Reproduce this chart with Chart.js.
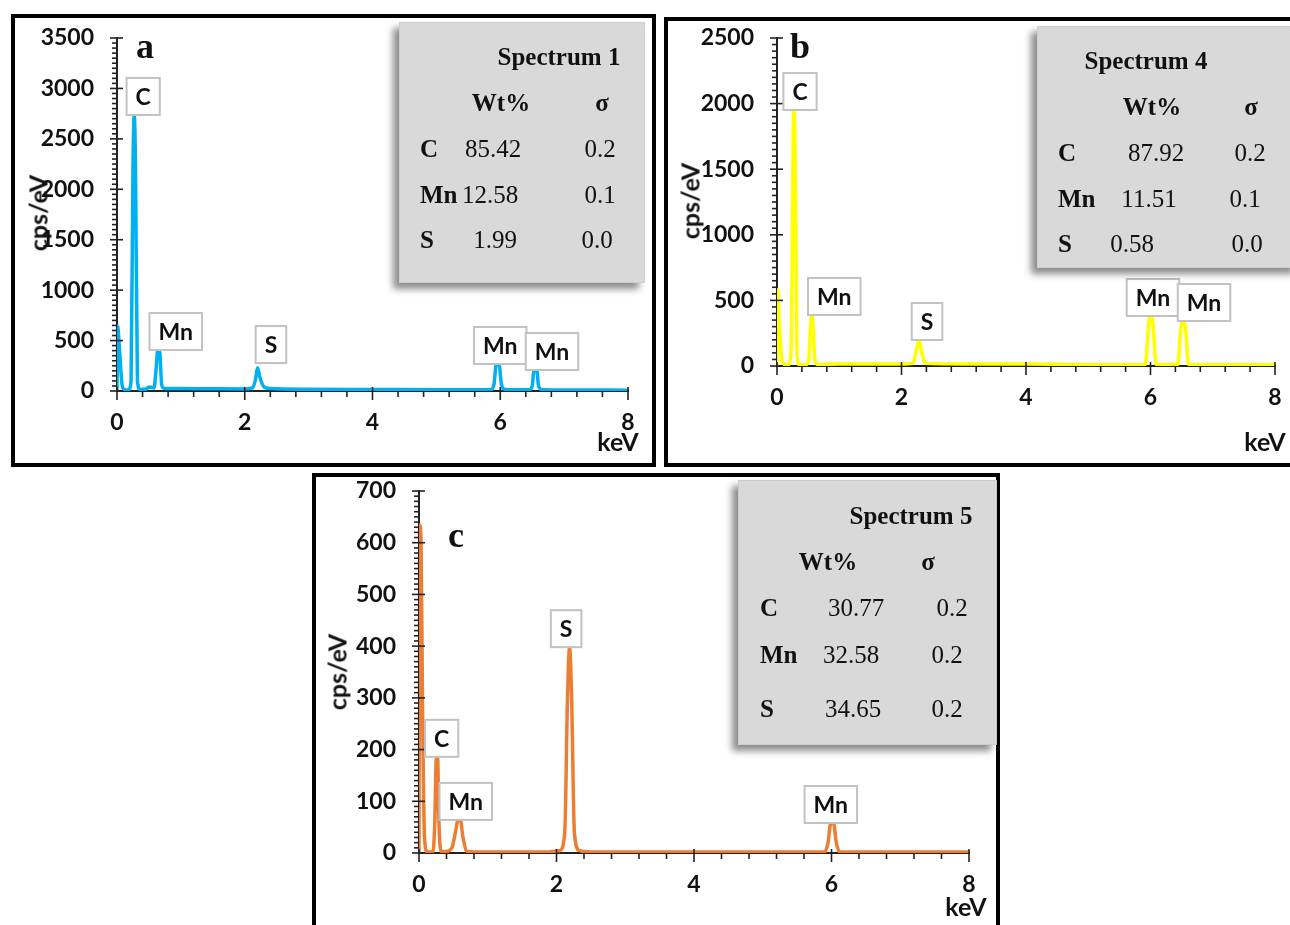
<!DOCTYPE html>
<html><head><meta charset="utf-8">
<script src="https://cdn.jsdelivr.net/npm/chart.js@4.4.1/dist/chart.umd.min.js"></script>
<style>
html,body{margin:0;padding:0;background:#fff;width:1290px;height:925px;overflow:hidden;position:relative;}
.frame{position:absolute;border:4px solid #000;box-sizing:border-box;}
canvas{position:absolute;}
.t{position:absolute;white-space:nowrap;transform:translate(-50%,-50%);line-height:1;color:#111;}
.serif{font-family:"Liberation Serif","DejaVu Serif",serif;font-size:25px;}
.b{font-weight:bold;}
.inset{position:absolute;background:#d9d9d9;border:1px solid #cdcdcd;box-shadow:-6px 6px 7px rgba(0,0,0,0.45);box-sizing:border-box;}
.sans{font-family:Lato,"Open Sans",sans-serif;font-weight:700;font-size:25px;}
.letter{font-family:"Liberation Serif",serif;font-weight:bold;font-size:36px;}
.ytitle{transform:translate(-50%,-50%) rotate(-90deg);}
</style></head><body>
<div class="frame" style="left:11px;top:14px;width:645px;height:453px;"></div>
<div class="frame" style="left:664px;top:17px;width:640px;height:450px;"></div>
<div class="frame" style="left:312px;top:473px;width:688px;height:460px;"></div>
<canvas id="ca" width="637" height="445" style="left:15px;top:18px;"></canvas>
<canvas id="cb" width="622" height="442" style="left:668px;top:21px;"></canvas>
<canvas id="cc" width="680" height="448" style="left:316px;top:477px;"></canvas>
<div id="overlay"></div>
<script>
// ---------- DATA ----------
// Panel a (Spectrum 1)
const keVA = [0,0.01,0.04,0.08,0.12,0.18,0.22,0.25,0.27,0.29,0.32,0.36,0.46,0.5,0.54,0.58,0.61,0.64,0.67,0.7,0.74,1.0,1.5,2.0,2.12,2.17,2.2,2.24,2.3,2.4,3.0,4.0,5.0,5.85,5.9,5.94,5.98,6.02,6.08,6.45,6.5,6.53,6.57,6.6,6.66,7.0,8.0];
const cpsA = [0,645,400,60,12,10,100,2200,2740,2200,100,15,20,40,35,30,200,410,380,60,25,25,22,20,30,120,230,130,40,25,18,15,12,12,60,268,268,60,15,12,50,210,210,50,12,10,8];
const peakTextA = ['C','Mn','S','Mn','Mn'];
const peakKeVA = [0.41,0.92,2.41,6.0,6.81];
const peakCpsA = [2737,406,277,268,208];
const elemsA = ['C','Mn','S'];
const wtA = ['85.42','12.58','1.99'];
const sigmaA = ['0.2','0.1','0.0'];

// Panel b (Spectrum 4)
const keVB = [0,0.01,0.04,0.08,0.12,0.18,0.23,0.26,0.27,0.29,0.32,0.36,0.46,0.51,0.54,0.56,0.58,0.61,0.66,1.0,2.0,2.18,2.24,2.28,2.32,2.38,3.0,4.0,5.0,5.92,5.96,5.99,6.02,6.05,6.09,6.44,6.48,6.51,6.54,6.57,6.61,7.0,8.0];
const cpsB = [0,580,300,40,10,10,150,1700,1950,1700,100,10,10,40,300,390,300,40,10,15,15,20,120,195,120,20,15,15,10,12,250,381,381,250,12,12,250,343,343,250,12,10,10];
const peakTextB = ['C','Mn','S','Mn','Mn'];
const peakKeVB = [0.37,0.92,2.41,6.04,6.86];
const peakCpsB = [1951,389,198,381,343];
const elemsB = ['C','Mn','S'];
const wtB = ['87.92','11.51','0.58'];
const sigmaB = ['0.2','0.1','0.0'];

// Panel c (Spectrum 5)
const keVC = [0,0.01,0.03,0.05,0.08,0.12,0.2,0.23,0.25,0.27,0.29,0.32,0.4,0.48,0.53,0.57,0.6,0.64,0.7,1.0,1.9,2.05,2.12,2.16,2.19,2.22,2.26,2.33,2.5,4.0,5.9,5.95,5.99,6.03,6.07,6.12,8.0];
const cpsC = [0,634,600,300,30,2,2,60,180,186,60,3,3,10,40,65,65,30,3,2,2,5,40,300,398,300,40,5,2,2,2,20,58,58,20,2,2];
const peakTextC = ['C','Mn','S','Mn'];
const peakKeVC = [0.33,0.68,2.14,5.99];
const peakCpsC = [186,64,398,58];
const elemsC = ['C','Mn','S'];
const wtC = ['30.77','32.58','34.65'];
const sigmaC = ['0.2','0.2','0.2'];

const xTickValues = [0,2,4,6,8];

// ---------- PLUGIN: tick marks & peak labels ----------
const decor = {
  id:'decor',
  afterDatasetsDraw(chart, args, o){
    const ctx = chart.ctx, x = chart.scales.x, y = chart.scales.y, ca = chart.chartArea;
    ctx.save();
    ctx.strokeStyle = '#222'; ctx.lineWidth = 1.6;
    const seg = (x1,y1,x2,y2)=>{ctx.beginPath();ctx.moveTo(x1,y1);ctx.lineTo(x2,y2);ctx.stroke();};
    const nMinY = Math.round(o.yMax/o.yMinor);
    for (let i=0;i<=nMinY;i++){
      const v = i*o.yMinor; const py = y.getPixelForValue(v);
      if (Math.abs(v/o.yMajor - Math.round(v/o.yMajor))<1e-6) seg(ca.left-7,py,ca.left+6,py);
      else seg(ca.left-5,py,ca.left,py);
    }
    const nMinX = Math.round(8/o.xMinor);
    for (let i=0;i<=nMinX;i++){
      const v = i*o.xMinor; const px = x.getPixelForValue(v);
      if (Math.abs(v/2 - Math.round(v/2))<1e-6) seg(px,ca.bottom-4,px,ca.bottom+9);
      else seg(px,ca.bottom,px,ca.bottom+6);
    }
    ctx.font = '700 23px Lato';
    ctx.textAlign='center'; ctx.textBaseline='middle';
    o.labels.text.forEach((t,i)=>{
      const px = x.getPixelForValue(o.labels.keV[i]);
      const py = y.getPixelForValue(o.labels.cps[i]);
      const w = ctx.measureText(t).width + 18, h = 37;
      ctx.fillStyle='#fff'; ctx.fillRect(px-w/2, py-h, w, h);
      ctx.strokeStyle='#c2c2c2'; ctx.lineWidth=2; ctx.strokeRect(px-w/2, py-h, w, h);
      ctx.fillStyle='#111'; ctx.fillText(t, px, py-h/2+1);
    });
    ctx.restore();
  }
};

function makeChart(id, keV, cps, color, yMax, yMajor, yMinor, labels, pad){
  const pts = keV.map((k,i)=>({x:k, y:cps[i]}));
  const tickFont = {family:'Lato', weight:'700', size:23};
  return new Chart(document.getElementById(id), {
    type:'line',
    data:{datasets:[{data:pts, borderColor:color, borderWidth:3.5, pointRadius:0, cubicInterpolationMode:'monotone', fill:false}]},
    options:{
      responsive:false, animation:false, devicePixelRatio:1,
      layout:{padding:pad},
      plugins:{legend:{display:false}, tooltip:{enabled:false},
        decor:{yMax:yMax, yMajor:yMajor, yMinor:yMinor, xMinor:0.4, labels:labels}},
      scales:{
        x:{type:'linear', min:0, max:8,
           afterBuildTicks:(s)=>{s.ticks = xTickValues.map(v=>({value:v}));},
           afterFit:(s)=>{s.height=50;},
           grid:{display:false, drawTicks:true, tickLength:18},
           border:{display:true, color:'#222', width:2},
           ticks:{padding:0, color:'#111', font:tickFont, maxRotation:0, callback:(v)=>String(v)}},
        y:{type:'linear', min:0, max:yMax,
           afterFit:(s)=>{s.width=80;},
           grid:{display:false, drawTicks:true, tickLength:23},
           border:{display:true, color:'#222', width:2},
           ticks:{stepSize:yMajor, padding:0, color:'#111', font:tickFont, callback:(v)=>String(v)}}
      }
    },
    plugins:[decor]
  });
}

makeChart('ca', keVA, cpsA, '#00b0f0', 3500, 500, 50,
  {text:peakTextA, keV:peakKeVA, cps:peakCpsA}, {left:22, top:20, right:24, bottom:22});
makeChart('cb', keVB, cpsB, '#ffff00', 2500, 500, 50,
  {text:peakTextB, keV:peakKeVB, cps:peakCpsB}, {left:29, top:17, right:15, bottom:47});
makeChart('cc', keVC, cpsC, '#ed7d31', 700, 100, 10,
  {text:peakTextC, keV:peakKeVC, cps:peakCpsC}, {left:23, top:14, right:27, bottom:22});

// ---------- OVERLAYS: insets, axis titles, panel letters ----------
const ov = document.getElementById('overlay');
function txt(s, x, y, cls){ const d=document.createElement('div'); d.className='t '+cls; d.textContent=s; d.style.left=x+'px'; d.style.top=y+'px'; ov.appendChild(d); return d; }
function inset(box, title, titleX, hdrX, hdrSigX, elemX, valX, sigX, rowY, elems, wts, sigs){
  const d=document.createElement('div'); d.className='inset';
  d.style.left=box[0]+'px'; d.style.top=box[1]+'px'; d.style.width=(box[2]-box[0])+'px'; d.style.height=(box[3]-box[1])+'px';
  ov.appendChild(d);
  txt(title, titleX, rowY[0], 'serif b');
  txt('Wt%', hdrX, rowY[1], 'serif b');
  txt('σ', hdrSigX, rowY[1], 'serif b');
  elems.forEach((e,i)=>{
    const el = txt(e, elemX, rowY[i+2], 'serif b');
    el.style.transform='translate(0,-50%)';
    txt(wts[i], valX[i], rowY[i+2], 'serif');
    txt(sigs[i], sigX[i], rowY[i+2], 'serif');
  });
}
inset([399,22,645,283], 'Spectrum 1', 559, 501, 602, 420, [493,490,495], [600,600,597], [56,102,148,194,239], elemsA, wtA, sigmaA);
inset([1037,26,1300,268], 'Spectrum 4', 1146, 1152, 1251, 1058, [1156,1149,1132], [1250,1245,1247], [60,106,152,198,243], elemsB, wtB, sigmaB);
inset([738,480,997,745], 'Spectrum 5', 911, 828, 928, 760, [856,851,853], [952,947,947], [515,561,607,654,708], elemsC, wtC, sigmaC);

txt('cps/eV', 38, 213, 'sans ytitle');
txt('cps/eV', 690, 201, 'sans ytitle');
txt('cps/eV', 337, 672, 'sans ytitle');
txt('keV', 618, 441, 'sans');
txt('keV', 1265, 441, 'sans');
txt('keV', 966, 906, 'sans');
txt('a', 145, 46, 'letter');
txt('b', 800, 46, 'letter');
txt('c', 456, 535, 'letter');
</script>
</body></html>
